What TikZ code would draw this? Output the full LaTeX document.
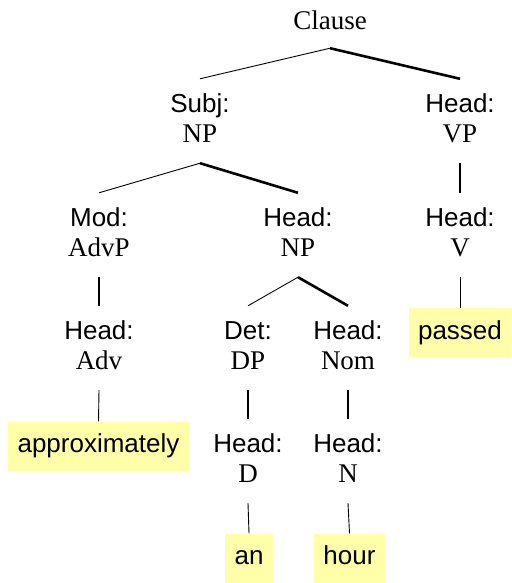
\documentclass[tikz,border=0pt]{standalone}
\usepackage{fontspec}
\setmainfont{Liberation Serif}
\setsansfont{Liberation Sans}
\definecolor{leafyellow}{RGB}{255,255,170}
\newcommand{\catname}[1]{{\rmfamily\fontsize{27}{30}\selectfont #1}}
\newcommand{\topstrut}{\rule{0pt}{19pt}}
\newcommand{\botstrut}{\rule[-6pt]{0pt}{6pt}}
\begin{document}
\begin{tikzpicture}[x=1pt,y=-1pt,
  every node/.style={font=\sffamily\fontsize{26}{30}\selectfont},
  tn/.style={align=center, inner sep=0pt, minimum height=84pt},
  leafnode/.style={fill=leafyellow, inner xsep=9.5pt, inner ysep=0pt, minimum height=49pt, text height=19pt, text depth=5.5pt},
  lnt/.style={line width=0.9pt},
  lnh/.style={line width=2.6pt}]
\useasboundingbox (0,0) rectangle (511,583);
% tree nodes
\node[inner sep=0pt, minimum height=56pt] (clause) at (330,20) {\catname{Clause}};
\node[tn] (subj) at (200,121) {\topstrut Subj:\\ \catname{NP}\botstrut};
\node[tn] (headvp) at (460,121) {\topstrut Head:\\ \catname{VP}\botstrut};
\node[tn] (mod) at (99,235) {\topstrut Mod:\\ \catname{AdvP}\botstrut};
\node[tn] (headnp) at (298,235) {\topstrut Head:\\ \catname{NP}\botstrut};
\node[tn] (headv) at (460,235) {\topstrut Head:\\ \catname{V}\botstrut};
\node[tn] (headadv) at (99,348) {\topstrut Head:\\ \catname{Adv}\botstrut};
\node[tn] (det) at (248,348) {\topstrut Det:\\ \catname{DP}\botstrut};
\node[tn] (headnom) at (348,348) {\topstrut Head:\\ \catname{Nom}\botstrut};
\node[tn] (headd) at (248,461) {\topstrut Head:\\ \catname{D}\botstrut};
\node[tn] (headn) at (348,461) {\topstrut Head:\\ \catname{N}\botstrut};
% leaves
\node[leafnode] (approx) at (98.5,446) {approximately};
\node[leafnode] (passed) at (460,332.5) {passed};
\node[leafnode] (an) at (249,558) {an};
\node[leafnode] (hour) at (349.5,558) {hour};
% connectors
\draw[lnt] (clause.south) -- (subj.north);
\draw[lnh] (clause.south) -- (headvp.north);
\draw[lnt] (subj.south) -- (mod.north);
\draw[lnh] (subj.south) -- (headnp.north);
\draw[lnh] (headvp.south) -- (headv.north);
\draw[lnt] (headv.south) -- (passed.north);
\draw[lnh] (mod.south) -- (headadv.north);
\draw[lnt] (headadv.south) -- (approx.north);
\draw[lnt] (headnp.south) -- (det.north);
\draw[lnh] (headnp.south) -- (headnom.north);
\draw[lnh] (det.south) -- (headd.north);
\draw[lnh] (headnom.south) -- (headn.north);
\draw[lnt] (headd.south) -- (an.north);
\draw[lnt] (headn.south) -- (hour.north);
\end{tikzpicture}
\end{document}
